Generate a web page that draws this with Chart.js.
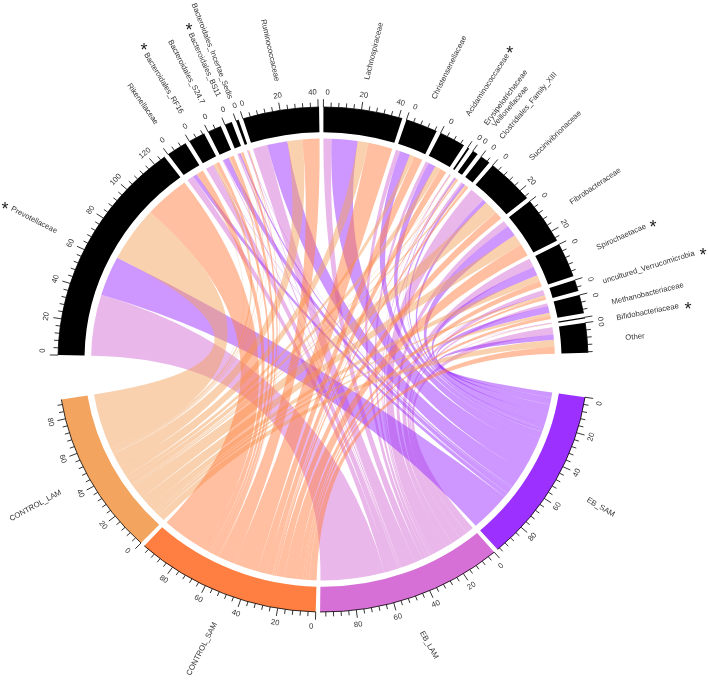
<!DOCTYPE html>
<html>
<head>
<meta charset="utf-8">
<style>html,body{margin:0;padding:0;background:#fff}canvas{display:block}</style>
<script src="https://cdn.jsdelivr.net/npm/chart.js@4/dist/chart.umd.js"></script>
</head>
<body>
<canvas id="c" width="708" height="680"></canvas>
<script>
// Categories
const taxa = ["Prevotellaceae","Rikenellaceae","Bacteroidales_RF16","Bacteroidales_S24.7","Bacteroidales_BS11","Bacteroidales_Incertae_Sedis","Ruminococcaceae","Lachnospiraceae","Christensenellaceae","Acidaminococcaceae","Erysipelotrichaceae","Veillonellaceae","Clostridiales_Family_XIII","Succinivibrionaceae","Fibrobacteraceae","Spirochaetacae","uncultured_Verrucomicrobia","Methanobacteriaceae","Bifidobacteriaceae","Other"];
const groups = ["EB_SAM","EB_LAM","CONTROL_SAM","CONTROL_LAM"];
const starred = ["Prevotellaceae","Bacteroidales_RF16","Bacteroidales_BS11","Acidaminococcaceae","Spirochaetacae","uncultured_Verrucomicrobia","Bifidobacteriaceae"];

// Series: abundance of each taxon in each group (read from the ribbon widths)
const EB_LAM      = [38.8,4,4.5,0.5,1,0.4,8.8,5,2.7,2,0.3,0.8,1.3,9.5,4,5.7,3,1.9,0.2,4.6];
const EB_SAM      = [25.1,2.6,0.3,3.5,1,0.3,12.3,15.7,6.3,4.5,0.2,0.7,1.6,2.5,7,5.7,0.3,4.3,0.2,3.2];
const CONTROL_LAM = [34.9,0.4,2,1,0.5,0.4,9.2,6.5,2.7,3.5,0.25,0.7,1.2,8.5,7,4,1.5,2,0.15,4.4];
const CONTROL_SAM = [27.8,4,2,2.3,1.4,0.4,10.2,14.7,5.3,4,0.25,0.8,1.3,4.9,7.9,3.6,1.5,2,0.15,4.4];

// Tick steps and colours
const majorStep = 20, minorStep = 4;
const smallGap = 2.3, bigGap = 24.5;
const groupColors = {EB_SAM:"#9b30ff",EB_LAM:"#d66fd6",CONTROL_SAM:"#ff7f42",CONTROL_LAM:"#f3a45f"};
const ribbonColors = {EB_SAM:"rgba(155,48,255,0.5)",EB_LAM:"rgba(214,111,214,0.5)",CONTROL_SAM:"rgba(255,127,66,0.5)",CONTROL_LAM:"rgba(243,164,95,0.5)"};

// Hand placed label layout [x, y, rotation degrees]
const nameLayout = {
 Prevotellaceae:[34,220,27],Rikenellaceae:[142.6,104,54.7],Bacteroidales_RF16:[163.7,83.3,59],"Bacteroidales_S24.7":[186.3,72,62.5],
 Bacteroidales_BS11:[204.5,64.7,66],Bacteroidales_Incertae_Sedis:[212,51,68.8],Ruminococcaceae:[270,50.3,77.3],Lachnospiraceae:[374,51,-76.2],
 Christensenellaceae:[449.3,67.5,-63.6],Acidaminococcaceae:[487.7,85,-56.8],Erysipelotrichaceae:[506,97.7,-53],Veillonellaceae:[510.3,106.7,-49.6],
 Clostridiales_Family_XIII:[528.3,105.7,-50],Succinivibrionaceae:[555.3,135.7,-43.6],Fibrobacteraceae:[595.3,186.3,-33.9],Spirochaetacae:[621.3,237,-24.2],
 uncultured_Verrucomicrobia:[648.7,267.3,-17.2],Methanobacteriaceae:[647.7,293.7,-13.7],Bifidobacteriaceae:[647.7,312,-11.1],Other:[635,337,-5],
 CONTROL_LAM:[35.5,505.7,-28.4],CONTROL_SAM:[202,649,-63],EB_LAM:[429,645,60.6],EB_SAM:[600.7,507.3,30]};
const starLayout = {Prevotellaceae:[5,205],Bacteroidales_RF16:[144,46],Bacteroidales_BS11:[189,26.7],Acidaminococcaceae:[509.7,49],Spirochaetacae:[653,223.3],uncultured_Verrucomicrobia:[703,251],Bifidobacteriaceae:[688,305]};

const flows = {EB_LAM,EB_SAM,CONTROL_LAM,CONTROL_SAM};
const flowOrder = ["EB_LAM","EB_SAM","CONTROL_LAM","CONTROL_SAM"];
const sum = a => a.reduce((s,v)=>s+v,0);
const taxonTotals = taxa.map((_,i)=>flowOrder.reduce((s,g)=>s+flows[g][i],0));
const groupTotals = groups.map(g=>sum(flows[g]));

// Doughnut slices: sectors separated by transparent gap slices
const labels=[], values=[], colors=[], sectorIndex=[];
function addSector(name,val,col,gap){
  sectorIndex.push({name,slice:values.length,val});
  labels.push(name);values.push(val);colors.push(col);
  labels.push("");values.push(gap);colors.push("rgba(0,0,0,0)");
}
taxa.forEach((t,i)=>addSector(t,taxonTotals[i],"#000",i===taxa.length-1?bigGap:smallGap));
groups.forEach((g,i)=>addSector(g,groupTotals[i],groupColors[g],i===groups.length-1?bigGap:smallGap));

const stretchX = 265/252.5, ribbonK = 0.875, sansFont = '"Liberation Sans", Arial, sans-serif';

function stretch(ctx,cx,cy){ctx.translate(cx,cy);ctx.scale(stretchX,1);ctx.translate(-cx,-cy);}

const chordPlugin = {
  id:"chord",
  beforeDatasetsDraw(chart){
    const ctx=chart.ctx, arcs=chart.getDatasetMeta(0).data, a0=arcs[0];
    const cx=a0.x, cy=a0.y, R=a0.outerRadius*ribbonK;
    const scale=(a0.endAngle-a0.startAngle)/values[0];
    ctx.save();
    stretch(ctx,cx,cy);
    // taxon side: each taxon's ribbons follow flowOrder clockwise
    const topStart=taxa.map((t,i)=>{
      let a=arcs[sectorIndex[i].slice].startAngle; const out={};
      flowOrder.forEach(g=>{out[g]=a;a+=flows[g][i]*scale;});
      return out;
    });
    // group side: Other lands first, Prevotellaceae last
    const cursor={}, botStart=[];
    groups.forEach(g=>{cursor[g]=arcs[sectorIndex.find(s=>s.name===g).slice].startAngle;});
    for(let i=taxa.length-1;i>=0;i--){
      botStart[i]={};
      groups.forEach(g=>{botStart[i][g]=cursor[g];cursor[g]+=flows[g][i]*scale;});
    }
    flowOrder.forEach(g=>{
      for(let i=taxa.length-1;i>=0;i--){
        const d=flows[g][i]*scale, t1=topStart[i][g], b1=botStart[i][g];
        ctx.beginPath();
        ctx.arc(cx,cy,R,t1,t1+d);
        ctx.quadraticCurveTo(cx,cy,cx+R*Math.cos(b1),cy+R*Math.sin(b1));
        ctx.arc(cx,cy,R,b1,b1+d);
        ctx.quadraticCurveTo(cx,cy,cx+R*Math.cos(t1),cy+R*Math.sin(t1));
        ctx.closePath();
        ctx.fillStyle=ribbonColors[g];
        ctx.fill();
      }
    });
    ctx.restore();
    // ring slices are drawn by the doughnut controller inside this stretch
    ctx.save();
    stretch(ctx,cx,cy);
  },
  afterDatasetsDraw(chart){
    const ctx=chart.ctx, arcs=chart.getDatasetMeta(0).data, a0=arcs[0];
    ctx.restore();
    const cx=a0.x, cy=a0.y, Ro=a0.outerRadius, Rx=Ro*stretchX;
    const P=(ang,k)=>[cx+Rx*k*Math.cos(ang),cy+Ro*k*Math.sin(ang)];
    const scale=(a0.endAngle-a0.startAngle)/values[0];
    ctx.save();
    ctx.strokeStyle="#000";ctx.fillStyle="#333";
    ctx.font="7.7px "+sansFont;ctx.textAlign="center";ctx.textBaseline="middle";
    sectorIndex.forEach(s=>{
      const arc=arcs[s.slice];
      ctx.lineWidth=0.8;
      ctx.save();stretch(ctx,cx,cy);ctx.beginPath();ctx.arc(cx,cy,Ro,arc.startAngle,arc.endAngle);ctx.restore();ctx.stroke();
      for(let v=0;v<=s.val+1e-6;v+=minorStep){
        const ang=arc.startAngle+v*scale, major=v%majorStep===0;
        const a=P(ang,1), b=P(ang,major?1.031:1.018);
        ctx.beginPath();ctx.moveTo(a[0],a[1]);ctx.lineTo(b[0],b[1]);ctx.stroke();
        if(major){
          const p=P(ang,1.058);
          const th=(((ang+Math.PI/2)%(2*Math.PI))+2*Math.PI)%(2*Math.PI);
          const flipped=th>Math.PI/2&&th<3*Math.PI/2;
          const rot=flipped?th-Math.PI:th;
          // labels at a sector edge are nudged inward so they stay over their sector
          const txt=String(v), room=ctx.measureText(txt).width/2+2, pxPerUnit=scale*Ro*1.05;
          let shift=0;
          if(v*pxPerUnit<room) shift=room-v*pxPerUnit;
          else if((s.val-v)*pxPerUnit<room) shift=-(room-(s.val-v)*pxPerUnit);
          ctx.save();ctx.translate(p[0],p[1]);ctx.rotate(rot);ctx.fillText(txt,flipped?-shift:shift,0);ctx.restore();
        }
      }
    });
    Object.keys(nameLayout).forEach(n=>{
      const l=nameLayout[n];
      ctx.save();ctx.translate(l[0],l[1]);ctx.rotate(l[2]*Math.PI/180);ctx.fillText(n,0,0);ctx.restore();
    });
    ctx.fillStyle="#222";ctx.font="18px "+sansFont;ctx.textBaseline="alphabetic";
    starred.forEach(n=>{
      const l=starLayout[n], m=ctx.measureText("*");
      ctx.fillText("*",l[0],l[1]+(m.actualBoundingBoxAscent-m.actualBoundingBoxDescent)/2);
    });
    ctx.restore();
  }
};

new Chart(document.getElementById("c"),{
  type:"doughnut",
  data:{labels,datasets:[{data:values,backgroundColor:colors,borderWidth:0,hoverOffset:0,clip:false}]},
  options:{
    responsive:false,animation:false,rotation:271,cutout:"90%",
    layout:{padding:{left:70.5,right:132.5,top:107,bottom:68}},
    plugins:{legend:{display:false},tooltip:{enabled:false}}
  },
  plugins:[chordPlugin]
});
</script>
</body>
</html>
